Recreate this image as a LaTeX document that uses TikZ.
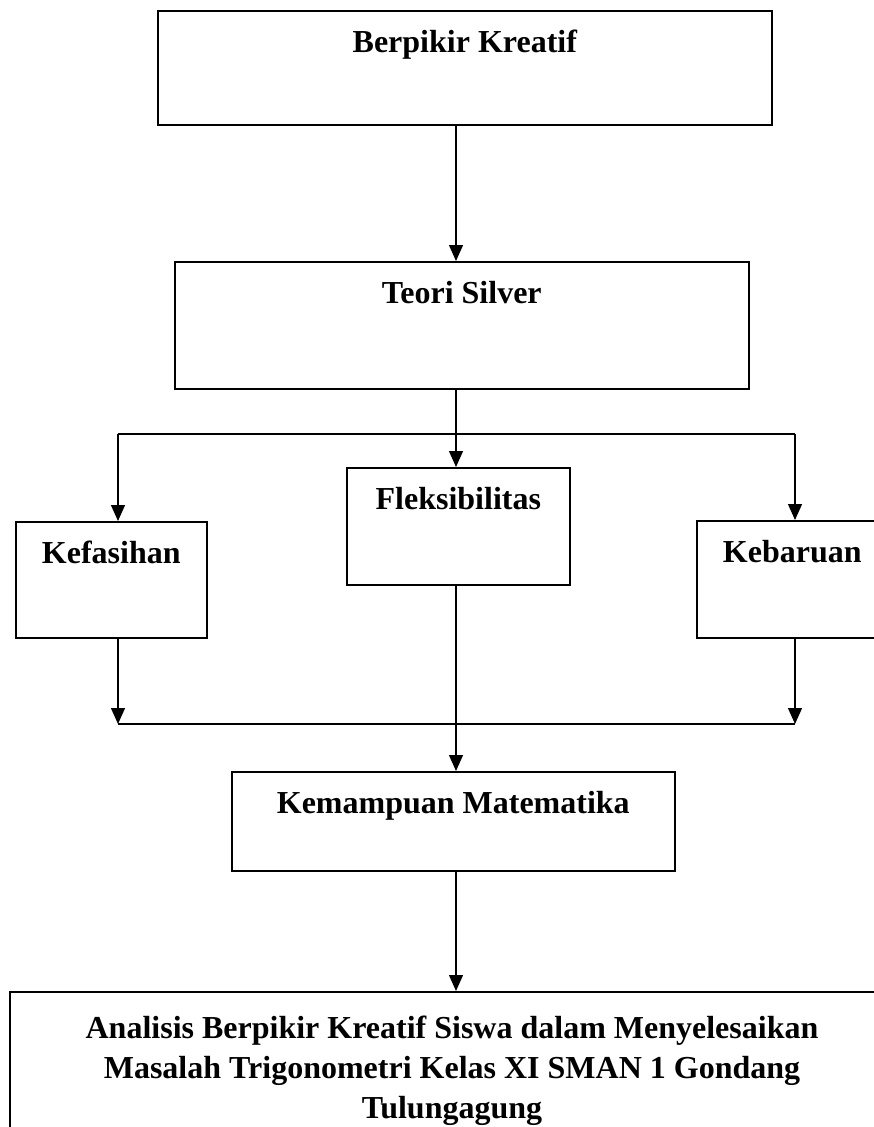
\documentclass[tikz,border=0pt]{standalone}
\usepackage{fontspec}
\setmainfont{Liberation Serif}
\usetikzlibrary{arrows.meta}

\begin{document}
\begin{tikzpicture}[x=1pt,y=-1pt,font=\fontsize{32}{40}\selectfont\bfseries,
   box/.style={draw,line width=1.6pt,anchor=north west,inner xsep=0pt,inner ysep=0pt,text height=42pt},
   ln/.style={line width=1.3pt},
   arr/.style={ln,-{Triangle[length=16pt,width=14pt]}}]
\useasboundingbox (0,0) rectangle (874,1127);
%% ---- boxes ----
\node[box,minimum width=614pt,text depth=72pt] (kreatif) at (157,10) {Berpikir Kreatif};
\node[box,minimum width=574pt,text depth=85pt] (silver) at (174,261) {Teori Silver};
\node[box,minimum width=191pt,text depth=74pt] (fasih) at (15,521) {Kefasihan};
\node[box,minimum width=223pt,text depth=75pt] (fleks) at (346,467) {Fleksibilitas};
\node[box,minimum width=191pt,text depth=75pt] (baru) at (696,520) {Kebaruan};  % runs past the right edge
\node[box,minimum width=443pt,text depth=57pt] (mampu) at (231,771) {Kemampuan Matematika};
\node[box,minimum width=886pt,minimum height=160pt] (analisis) at (9,991) {};
\node[align=center,anchor=north,inner sep=0pt] (analisisT) at (452,1016)
  {Analisis Berpikir Kreatif Siswa dalam Menyelesaikan\\
   Masalah Trigonometri Kelas XI SMAN 1 Gondang\\
   Tulungagung};
%% ---- branch points ----
\coordinate (ax) at (456,0);
\coordinate (tl) at (118,434);
\coordinate (tr) at (795,434);
\coordinate (bl) at (118,724);
\coordinate (br) at (795,724);
%% ---- connectors ----
\draw[arr] (kreatif.south -| ax) -- (silver.north -| ax);
\draw[arr] (silver.south -| ax) -- (fleks.north -| ax);
\draw[ln] (tl) -- (tr);
\draw[arr] (tl) -- (tl |- fasih.north);
\draw[arr] (tr) -- (tr |- baru.north);
\draw[arr] (fasih.south -| bl) -- (bl);
\draw[arr] (baru.south -| br) -- (br);
\draw[ln] (bl) -- (br);
\draw[arr] (fleks.south -| ax) -- (mampu.north -| ax);
\draw[arr] (mampu.south -| ax) -- (analisis.north -| ax);
\end{tikzpicture}
\end{document}
